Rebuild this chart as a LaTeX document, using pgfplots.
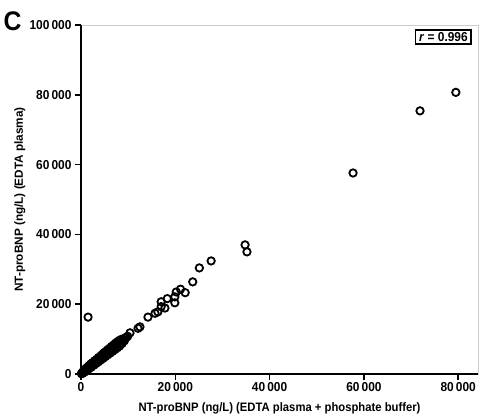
\documentclass[border=0pt]{standalone}
\usepackage{fontspec}
\setmainfont{Liberation Sans}[FakeStretch=0.92]
\newfontfamily\ylabfont{Liberation Sans}
\usepackage{pgfplots}
\pgfplotsset{compat=1.18}
\begin{document}
\begin{tikzpicture}
\useasboundingbox (-81bp,-42bp) rectangle (403bp,374bp);
\begin{axis}[
  scale only axis,
  width=397bp, height=349bp,
  xmin=0, xmax=84200, ymin=0, ymax=100000,
  scaled ticks=false,
  xtick={0,20000,40000,60000,80000},
  ytick={0,20000,40000,60000,80000,100000},
  xticklabels={0,20\,000,40\,000,60\,000,80\,000},
  yticklabels={0,20\,000,40\,000,60\,000,80\,000,100\,000},
  ticklabel style={font=\fontsize{13}{15}\selectfont\bfseries},
  xticklabel style={yshift=1bp},
  xtick pos=bottom, ytick pos=left,
  tick align=outside,
  major tick length=6bp,
  tick style={black, line width=1.5pt},
  axis line style={black!20, line width=0.6pt},
  clip=false,
  xlabel={NT-proBNP (ng/L) (EDTA plasma + phosphate buffer)},
  ylabel={NT-proBNP (ng/L) (EDTA plasma)},
  xlabel style={font=\fontsize{12.3}{14}\selectfont\bfseries, at={(axis description cs:0.5,-0.0974)}, anchor=center},
  ylabel style={font=\fontsize{11.8}{14}\selectfont\ylabfont\bfseries, at={(axis description cs:-0.1537,0.5)}, anchor=center},
]
\draw[black, line width=1.8pt] (rel axis cs:0,1) -- (rel axis cs:0,0) -- (rel axis cs:1,0);
\addplot[only marks, mark=o, mark size=3.7bp, mark options={line width=1.8bp, black}] coordinates {
(79500,80700) (71900,75400) (57700,57600)
(35200,35000) (34800,37000) (27600,32400) (25100,30400) (23700,26400)
(22100,23300) (21100,24300) (20200,23500) (19900,22100) (19900,20400)
(18300,21600) (17000,20700) (17000,19300) (17800,18900) (16300,17800)
(15700,17400) (14200,16300) (12500,13500) (12100,13100) (10400,11800)
(1500,16300)
(100,120) (150,90) (200,260) (250,220) (300,330) (350,280) (400,470)
(450,420) (500,540) (600,700) (650,610) (700,820) (800,860) (850,950)
(900,1000) (1000,1150) (1100,1150) (1200,1380) (1300,1350) (1400,1550)
(1500,1620) (1600,1800) (1700,1760) (1800,2000) (1900,2100) (2000,2200)
(2100,2150) (2200,2450) (2400,2600) (2500,2700) (2600,2900) (2700,2850)
(2800,3100) (3000,3300) (3100,3250) (3200,3500) (3400,3700) (3500,3900)
(3600,3800) (3800,4200) (4000,4300) (4100,4500) (4300,4600) (4500,4900)
(4600,5100) (4800,5200) (5000,5500) (5200,5600) (5400,5900) (5600,6100)
(5800,6400) (6000,6500) (6200,6800) (6400,6900) (6600,7300) (6800,7400)
(7000,7700) (7200,7800) (7400,8200) (7600,8300) (7800,8600) (8000,8700)
(8200,9100) (8500,9300) (8800,9800) (9000,9900) (9300,10300) (9600,10500)
(9900,10800)
(500,800) (900,1400) (1300,1900) (1700,2400) (2100,2900) (2500,3300)
(2900,3800) (3300,4200) (3700,4700) (4100,5100) (4500,5600) (4900,6100)
(5300,6500) (5700,7000) (6100,7400) (6500,7900) (6900,8300) (7300,8800)
(7700,9200) (8100,9600) (8500,9900)
(700,500) (1200,1000) (1700,1500) (2200,2000) (2700,2500) (3200,3000)
(3700,3500) (4200,4000) (4700,4500) (5200,5000) (5700,5500) (6200,6000)
(6700,6500) (7200,7000) (7700,7500) (8200,8000) (8700,8700) (9200,9500)
};
\node[draw=black, line width=1.6pt, anchor=north east, inner xsep=3.5bp, inner ysep=2.5bp, font=\fontsize{13}{15}\selectfont\bfseries] at ([xshift=-6bp,yshift=-4bp]rel axis cs:1,1) {\textit{r} = 0.996};
\end{axis}
\node[font=\fontsize{27}{28}\selectfont\bfseries] at (-68.5bp,353bp) {C};
\end{tikzpicture}
\end{document}
